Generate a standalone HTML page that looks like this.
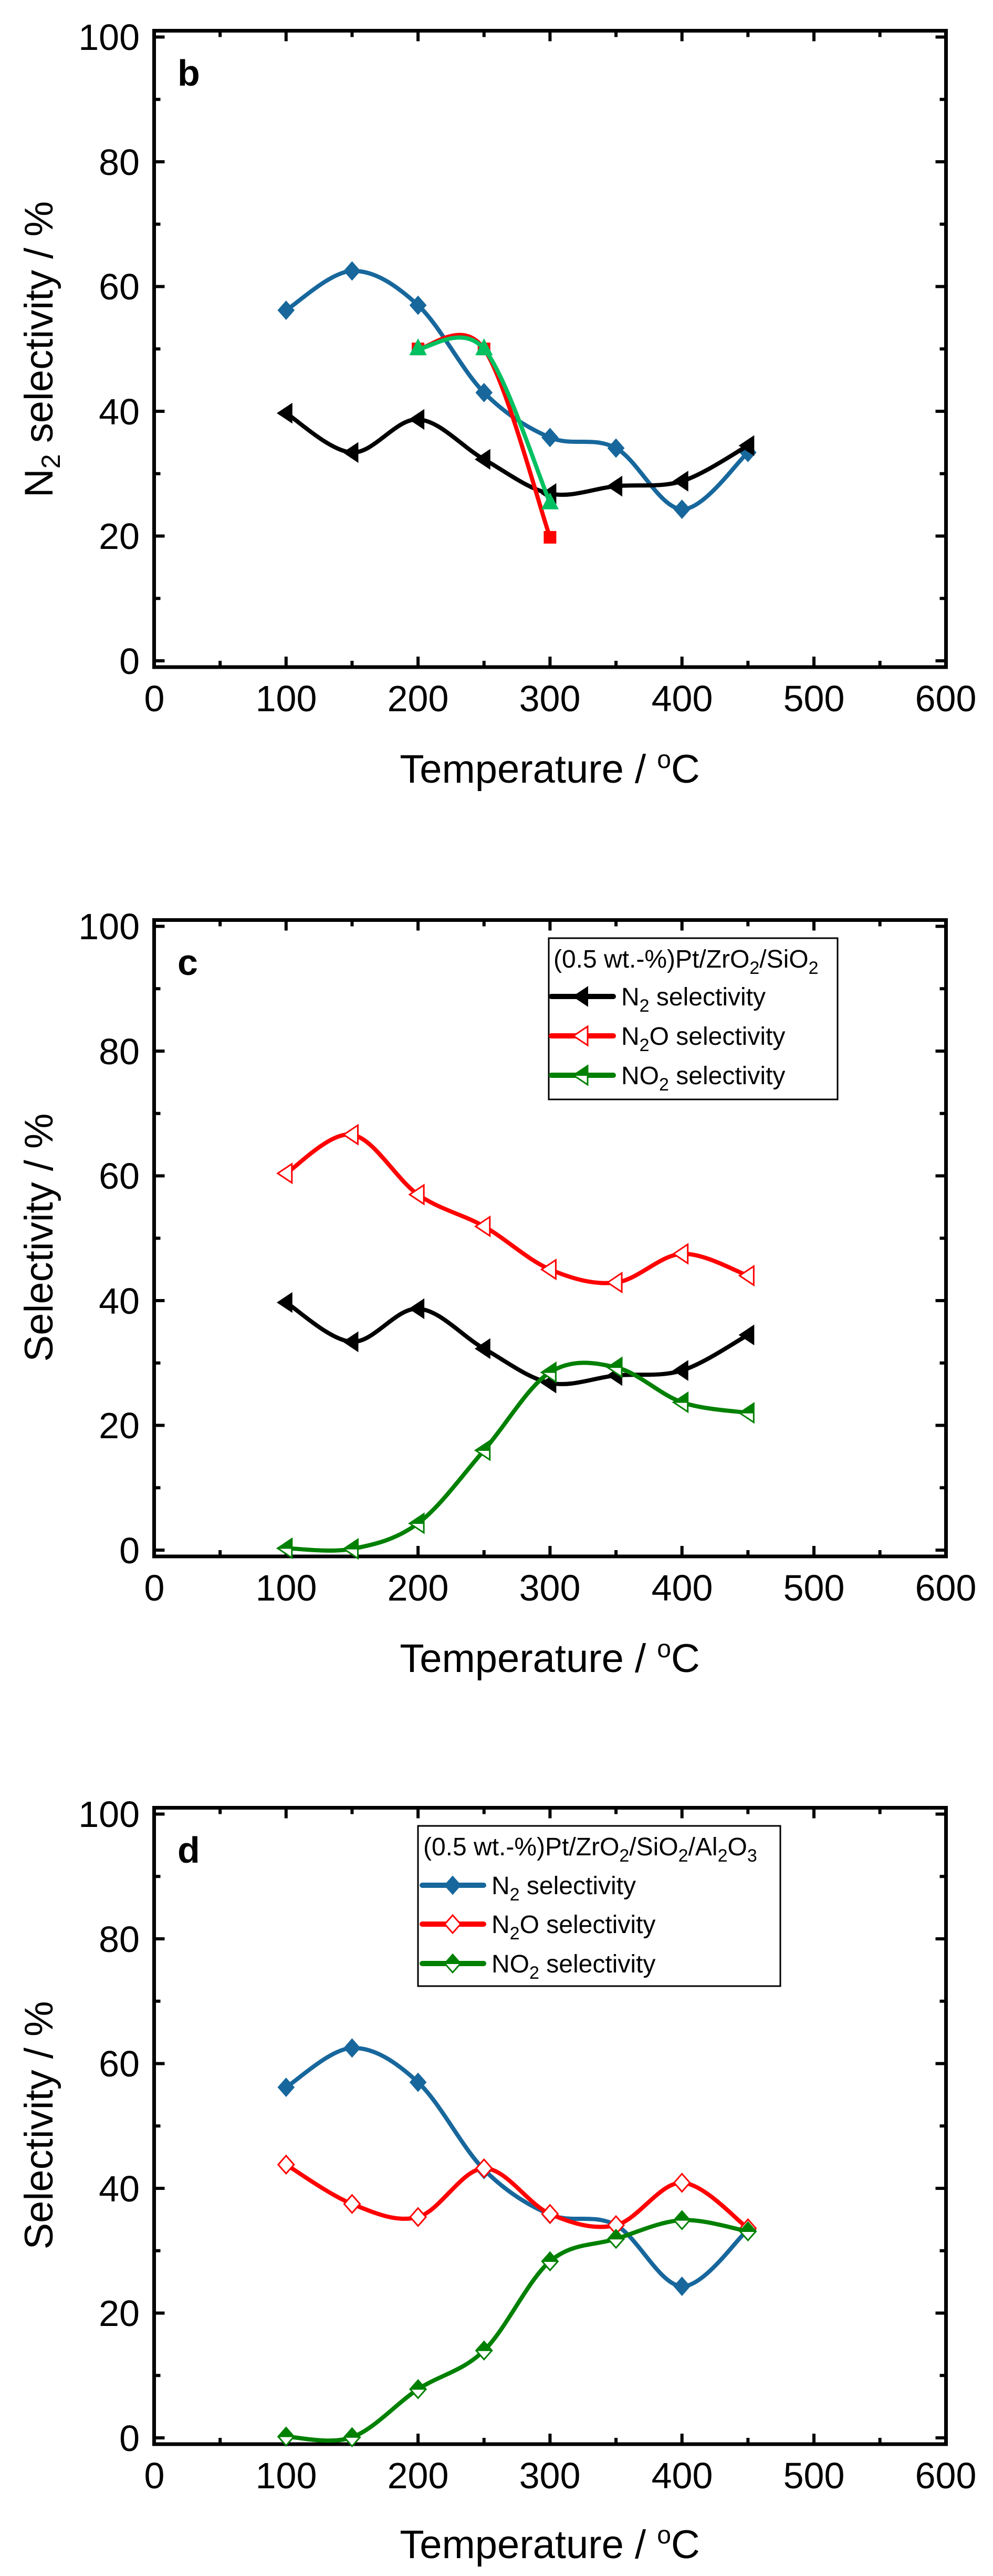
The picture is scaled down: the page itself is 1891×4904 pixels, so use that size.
<!DOCTYPE html>
<html><head><meta charset="utf-8">
<style>
html,body{margin:0;padding:0;background:#fff;}
svg{display:block;}
text{font-family:"Liberation Sans",Arial,sans-serif;fill:#000;}
</style></head>
<body>
<svg id="s" width="1891" height="4904" viewBox="0 0 1891 4904" xmlns="http://www.w3.org/2000/svg">
<rect width="1891" height="4904" fill="#fff"/>
<!-- Chart b texts -->
<g font-size="70" text-anchor="end">
<text x="266" y="1283">0</text><text x="266" y="1045">20</text><text x="266" y="808">40</text><text x="266" y="570">60</text><text x="266" y="333">80</text><text x="266" y="95">100</text>
</g>
<g font-size="70" text-anchor="middle">
<text x="294" y="1354">0</text><text x="545" y="1354">100</text><text x="796" y="1354">200</text><text x="1047" y="1354">300</text><text x="1299" y="1354">400</text><text x="1550" y="1354">500</text><text x="1801" y="1354">600</text>
</g>
<text x="1047" y="1490" font-size="76" text-anchor="middle">Temperature / <tspan dy="-28" font-size="48">o</tspan><tspan dy="28">C</tspan></text>
<text transform="translate(100,665) rotate(-90)" font-size="76" text-anchor="middle">N<tspan dy="14" font-size="50">2</tspan><tspan dy="-14"> selectivity / %</tspan></text>
<text x="338" y="163" font-size="70" font-weight="bold">b</text>

<!-- Chart c texts -->
<g transform="translate(0,1693)">
<g font-size="70" text-anchor="end">
<text x="266" y="1283">0</text><text x="266" y="1045">20</text><text x="266" y="808">40</text><text x="266" y="570">60</text><text x="266" y="333">80</text><text x="266" y="95">100</text>
</g>
<g font-size="70" text-anchor="middle">
<text x="294" y="1354">0</text><text x="545" y="1354">100</text><text x="796" y="1354">200</text><text x="1047" y="1354">300</text><text x="1299" y="1354">400</text><text x="1550" y="1354">500</text><text x="1801" y="1354">600</text>
</g>
<text x="1047" y="1490" font-size="76" text-anchor="middle">Temperature / <tspan dy="-28" font-size="48">o</tspan><tspan dy="28">C</tspan></text>
<text transform="translate(100,663) rotate(-90)" font-size="76" text-anchor="middle">Selectivity / %</text>
<text x="338" y="163" font-size="70" font-weight="bold">c</text>
<rect x="1045" y="93" width="550" height="307" fill="#fff" stroke="#000" stroke-width="3"/>
<text x="1054" y="149" font-size="48">(0.5 wt.-%)Pt/ZrO<tspan dy="12" font-size="34">2</tspan><tspan dy="-12">/SiO</tspan><tspan dy="12" font-size="34">2</tspan></text>
<text x="1183" y="221" font-size="48">N<tspan dy="12" font-size="34">2</tspan><tspan dy="-12"> selectivity</tspan></text>
<text x="1183" y="296" font-size="48">N<tspan dy="12" font-size="34">2</tspan><tspan dy="-12">O selectivity</tspan></text>
<text x="1183" y="371" font-size="48">NO<tspan dy="12" font-size="34">2</tspan><tspan dy="-12"> selectivity</tspan></text>
</g>

<!-- Chart d texts -->
<g transform="translate(0,3383)">
<g font-size="70" text-anchor="end">
<text x="266" y="1283">0</text><text x="266" y="1045">20</text><text x="266" y="808">40</text><text x="266" y="570">60</text><text x="266" y="333">80</text><text x="266" y="95">100</text>
</g>
<g font-size="70" text-anchor="middle">
<text x="294" y="1354">0</text><text x="545" y="1354">100</text><text x="796" y="1354">200</text><text x="1047" y="1354">300</text><text x="1299" y="1354">400</text><text x="1550" y="1354">500</text><text x="1801" y="1354">600</text>
</g>
<text x="1047" y="1487" font-size="76" text-anchor="middle">Temperature / <tspan dy="-28" font-size="48">o</tspan><tspan dy="28">C</tspan></text>
<text transform="translate(100,663) rotate(-90)" font-size="76" text-anchor="middle">Selectivity / %</text>
<text x="338" y="163" font-size="70" font-weight="bold">d</text>
<rect x="796" y="93" width="690" height="305" fill="#fff" stroke="#000" stroke-width="3"/>
<text x="806" y="149" font-size="48">(0.5 wt.-%)Pt/ZrO<tspan dy="12" font-size="34">2</tspan><tspan dy="-12">/SiO</tspan><tspan dy="12" font-size="34">2</tspan><tspan dy="-12">/Al</tspan><tspan dy="12" font-size="34">2</tspan><tspan dy="-12">O</tspan><tspan dy="12" font-size="34">3</tspan></text>
<text x="936" y="223" font-size="48">N<tspan dy="12" font-size="34">2</tspan><tspan dy="-12"> selectivity</tspan></text>
<text x="936" y="297" font-size="48">N<tspan dy="12" font-size="34">2</tspan><tspan dy="-12">O selectivity</tspan></text>
<text x="936" y="372" font-size="48">NO<tspan dy="12" font-size="34">2</tspan><tspan dy="-12"> selectivity</tspan></text>
</g>
<g id="dyn"></g>
</svg>
<script>
(function(){
var NS="http://www.w3.org/2000/svg", g=document.getElementById('dyn');
function el(t,a){var e=document.createElementNS(NS,t);for(var k in a)e.setAttribute(k,a[k]);g.appendChild(e);return e;}
var T=[100,150,200,250,300,350,400,450];
function X(t){return 293.5+t*2.513;}
function Yf(off){return function(v){return off+1258-v*11.875;};}
function axes(off){
  el('rect',{x:293.5,y:off+58.5,width:1508,height:1211.5,fill:'none',stroke:'#000','stroke-width':7});
  var Y=Yf(off);
  for(var t=0;t<=600;t+=50){var L=(t%100==0)?20:12,x=X(t);
    el('line',{x1:x,y1:off+1270,x2:x,y2:off+1270-L,stroke:'#000','stroke-width':6});
    el('line',{x1:x,y1:off+58.5,x2:x,y2:off+58.5+L,stroke:'#000','stroke-width':6});}
  for(var v=0;v<=100;v+=10){var L=(v%20==0)?20:12,y=Y(v);
    el('line',{x1:293.5,y1:y,x2:293.5+L,y2:y,stroke:'#000','stroke-width':6});
    el('line',{x1:1801.5,y1:y,x2:1801.5-L,y2:y,stroke:'#000','stroke-width':6});}
}
function curve(pts,col,w){
  var d='M'+pts[0][0]+','+pts[0][1];
  for(var i=0;i<pts.length-1;i++){
    var p0=pts[i>0?i-1:i],p1=pts[i],p2=pts[i+1],p3=pts[i+2<pts.length?i+2:i+1];
    var c1=[p1[0]+(p2[0]-p0[0])/6,p1[1]+(p2[1]-p0[1])/6],c2=[p2[0]-(p3[0]-p1[0])/6,p2[1]-(p3[1]-p1[1])/6];
    d+=' C'+c1+' '+c2+' '+p2;}
  el('path',{d:d,fill:'none',stroke:col,'stroke-width':w||8,'stroke-linejoin':'round','stroke-linecap':'round'});
}
function poly(p,a){var s=p.map(function(q){return q.join(',');}).join(' ');a.points=s;return el('polygon',a);}
function marker(type,x,y,col,fill){
  var pts,top;
  if(type=='dia'){pts=[[x,y-17],[x+15,y],[x,y+17],[x-15,y]];top=[[x,y-17],[x+15,y],[x-15,y]];}
  else if(type=='ltri'){pts=[[x-16,y],[x+11,y-18],[x+11,y+18]];top=[[x-16,y],[x+11,y-18],[x+11,y]];}
  else if(type=='utri'){pts=[[x,y-18],[x+15,y+11],[x-15,y+11]];}
  else if(type=='sq'){pts=[[x-11,y-11],[x+11,y-11],[x+11,y+11],[x-11,y+11]];}
  if(fill=='full') poly(pts,{fill:col,stroke:col,'stroke-width':2});
  else if(fill=='open') poly(pts,{fill:'#fff',stroke:col,'stroke-width':3});
  else {poly(pts,{fill:'#fff',stroke:col,'stroke-width':3});poly(top,{fill:col,stroke:col,'stroke-width':2});}
}
function series(off,xs,vals,col,type,fill){
  var Y=Yf(off),p=xs.map(function(t,i){return [X(t),Y(vals[i])];});
  curve(p,col);
  p.forEach(function(q){marker(type,q[0],q[1],col,fill);});
}
function legendEntry(off,x1,x2,mx,y,col,type,fill){
  el('line',{x1:x1,y1:off+y,x2:x2,y2:off+y,stroke:col,'stroke-width':10,'stroke-linecap':'round'});
  marker(type,mx,off+y,col,fill);
}
var BLUE='#17679c',RED='#ff0000',GRN='#008000',LGRN='#00c060';
var blue=[56.2,62.5,57,43,35.8,34.1,24.3,33.4];
var black=[39.7,33.4,38.7,32.3,26.8,28.0,28.8,34.5];
axes(0);
series(0,T,blue,BLUE,'dia','full');
series(0,T,black,'#000','ltri','full');
series(0,[200,250,300],[50,50,19.8],RED,'sq','full');
series(0,[200,250,300],[50,50,25.3],LGRN,'utri','full');
var o2=1693;axes(o2);
series(o2,T,black,'#000','ltri','full');
series(o2,T,[60.4,66.6,57,51.9,45,42.9,47.5,44],RED,'ltri','open');
series(o2,T,[0.3,0.2,4.3,16,28.5,29.3,23.7,22],GRN,'ltri','half');
legendEntry(o2,1050,1168,1108,204,'#000','ltri','full');
legendEntry(o2,1050,1168,1108,279,RED,'ltri','open');
legendEntry(o2,1050,1168,1108,354,GRN,'ltri','half');
var o3=3383;axes(o3);
series(o3,T,blue,BLUE,'dia','full');
series(o3,T,[43.8,37.5,35.4,43.2,35.9,34.1,40.9,33.6],RED,'dia','open');
series(o3,T,[0.2,0.1,7.8,14,28.3,31.9,34.9,33.1],GRN,'dia','half');
legendEntry(o3,804,921,862,206,BLUE,'dia','full');
legendEntry(o3,804,921,862,280,RED,'dia','open');
legendEntry(o3,804,921,862,355,GRN,'dia','half');
})();
</script>
</body></html>
